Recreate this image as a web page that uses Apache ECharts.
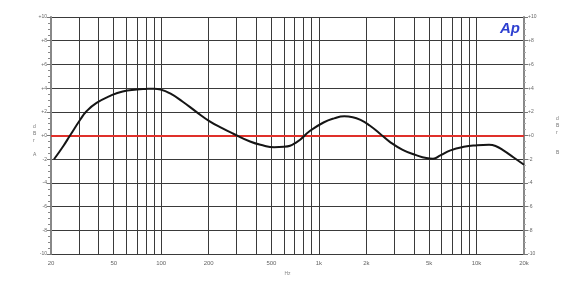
<!DOCTYPE html>
<html>
<head>
<meta charset="utf-8">
<script src="https://cdn.jsdelivr.net/npm/echarts@6/dist/echarts.min.js"></script>
<style>
html,body{margin:0;padding:0;background:#fff;}
#c{width:567px;height:281px;}
</style>
</head>
<body>
<div id="c"></div>
<script>
// Frequency (Hz) and level (dBr)
var freqs = [20.9, 23.9, 26.4, 30.7, 33.6, 38.9, 47.5, 57, 70, 80, 90, 99, 114, 137, 167, 203, 245, 287, 366, 440, 520, 600, 724, 880, 1070, 1250, 1450, 1640, 1850, 2100, 2420, 2830, 3400, 4140, 4800, 5300, 5890, 6830, 8300, 10100, 12000, 13300, 14800, 17200, 20000];
var levels = [-2.0, -0.9, 0.0, 1.35, 2.05, 2.75, 3.35, 3.72, 3.88, 3.93, 3.95, 3.88, 3.55, 2.85, 2.0, 1.2, 0.6, 0.15, -0.5, -0.82, -0.98, -0.95, -0.55, 0.4, 1.1, 1.45, 1.62, 1.55, 1.3, 0.85, 0.2, -0.55, -1.2, -1.65, -1.9, -1.95, -1.68, -1.25, -0.95, -0.82, -0.78, -0.9, -1.25, -1.85, -2.46];
var referenceLevel = 0;

var xGridFreqs = [20,30,40,50,60,70,80,90,100,200,300,400,500,600,700,800,900,1000,2000,3000,4000,5000,6000,7000,8000,9000,10000,20000];
var xTickValues = [20, 50, 100, 200, 500, 1000, 2000, 5000, 10000, 20000];
var xTickLabels = ['20', '50', '100', '200', '500', '1k', '2k', '5k', '10k', '20k'];
var yMin = -10, yMax = 10, yStep = 2;

var chart = echarts.init(document.getElementById('c'), null, {renderer: 'canvas'});
var data = freqs.map(function (f, i) { return [f, levels[i]]; });
var fontFam = 'Liberation Sans, Arial, sans-serif';
var lblColor = '#666';
function yFmt(v) { return (v >= 0 ? '+' : '') + v; }

chart.setOption({
  animation: false,
  backgroundColor: '#fff',
  grid: {left: 51, right: 43, top: 17, bottom: 23, containLabel: false},
  xAxis: {
    type: 'log', logBase: 10, min: 20, max: 20000,
    name: 'Hz', nameLocation: 'middle', nameGap: 12,
    nameTextStyle: {fontSize: 5, color: '#888', fontFamily: fontFam},
    axisLine: {show: true, lineStyle: {color: '#777', width: 1}},
    axisTick: {show: true, inside: true, length: 0, customValues: xGridFreqs, lineStyle: {color: '#444'}},
    axisLabel: {
      customValues: xTickValues, fontSize: 6, color: lblColor, fontFamily: fontFam, margin: 6,
      formatter: function (v) { var i = xTickValues.indexOf(Math.round(v)); return i >= 0 ? xTickLabels[i] : ''; }
    },
    splitLine: {show: true, lineStyle: {color: '#3a3a3a', width: 1}},
    minorSplitLine: {show: false}
  },
  yAxis: [{
    type: 'value', min: yMin, max: yMax, interval: yStep, position: 'left',
    axisLine: {show: true, lineStyle: {color: '#888', width: 2}},
    axisTick: {show: true, length: 4, lineStyle: {color: '#777'}},
    minorTick: {show: true, splitNumber: 4, length: 3, lineStyle: {color: '#888'}},
    axisLabel: {fontSize: 5, color: lblColor, fontFamily: fontFam, margin: 4, formatter: yFmt},
    splitLine: {show: true, lineStyle: {color: '#3a3a3a', width: 1}}
  }, {
    type: 'value', min: yMin, max: yMax, interval: yStep, position: 'right',
    axisLine: {show: true, lineStyle: {color: '#888', width: 2}},
    axisTick: {show: true, length: 4, lineStyle: {color: '#777'}},
    minorTick: {show: true, splitNumber: 4, length: 2, lineStyle: {color: '#aaa'}},
    axisLabel: {fontSize: 5, color: lblColor, fontFamily: fontFam, margin: 4, formatter: yFmt},
    splitLine: {show: false}
  }],
  series: [{
    type: 'line', data: data, smooth: 0.5, showSymbol: false, symbol: 'none',
    lineStyle: {color: '#151515', width: 2}, z: 3,
    markLine: {
      silent: true, symbol: ['none', 'none'], label: {show: false},
      lineStyle: {color: '#e0302a', width: 2, type: 'solid'},
      data: [{yAxis: referenceLevel}], z: 2
    }
  }],
  graphic: [
    {type: 'text', left: 500, top: 21, style: {text: 'Ap', font: 'italic bold 15px Liberation Sans, Arial, sans-serif', fill: '#2d3fd0'}},
    {type: 'text', left: 33, top: 123, style: {text: 'd\nB\nr', font: '5px Liberation Sans, Arial, sans-serif', fill: '#777', lineHeight: 7}},
    {type: 'text', left: 33, top: 152, style: {text: 'A', font: '5px Liberation Sans, Arial, sans-serif', fill: '#777'}},
    {type: 'text', left: 556, top: 115, style: {text: 'd\nB\nr', font: '5px Liberation Sans, Arial, sans-serif', fill: '#777', lineHeight: 7}},
    {type: 'text', left: 556, top: 150, style: {text: 'B', font: '5px Liberation Sans, Arial, sans-serif', fill: '#777'}}
  ]
});
</script>
</body>
</html>
